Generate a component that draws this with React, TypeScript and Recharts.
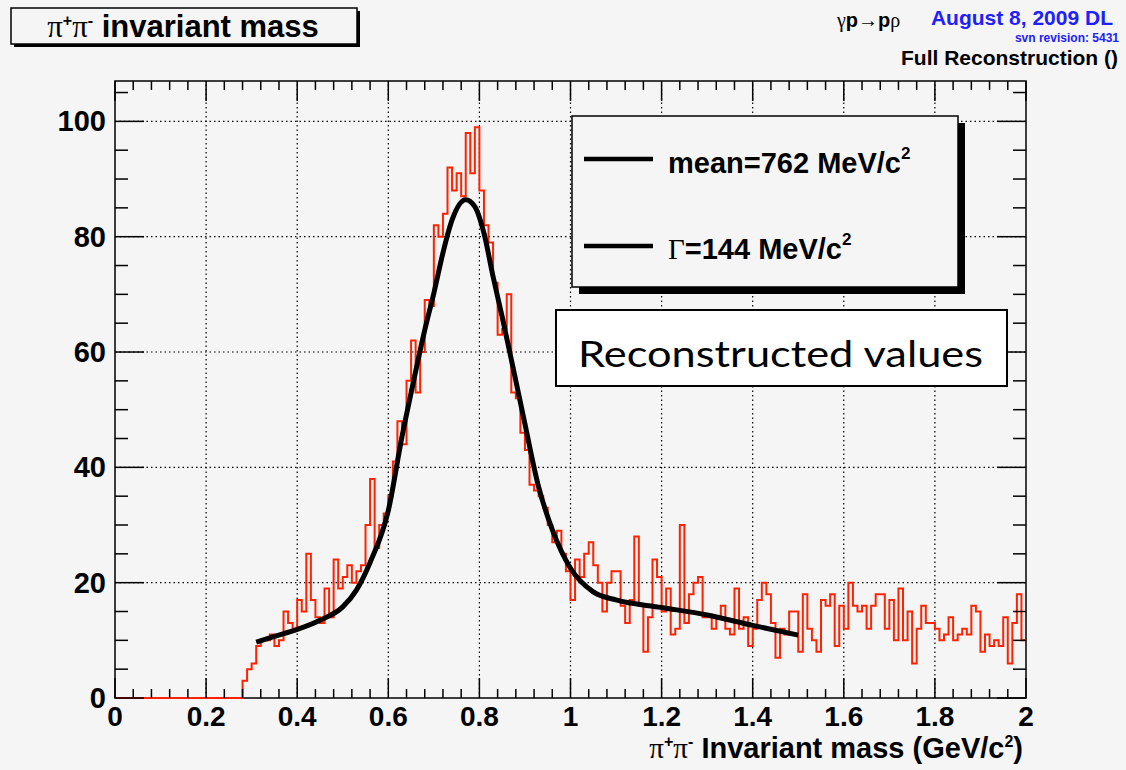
import React from "react";
import {
    LineChart,
    Line,
    XAxis,
    YAxis,
    ReferenceLine,
} from "recharts";

// histogram: 200 bins of 10 MeV from 0 to 2 GeV (counts per bin)
const BIN_WIDTH = 0.01;
const HIST_COUNTS = [
    0, 0, 0, 0, 0, 0, 0, 0, 0, 0, 0, 0, 0, 0, 0, 0, 0, 0, 0, 0, 0, 0, 0, 0, 0, 0, 0, 0,
    3, 5, 6, 9, 10, 10, 11, 9, 10, 15, 13, 12,
    17, 15, 25, 17, 14, 13, 19, 14, 24, 19,
    21, 23, 20, 22, 23, 30, 38, 26, 30, 32,
    35, 41, 48, 44, 55, 62, 53, 60, 69, 68,
    82, 80, 84, 92, 88, 91, 87, 98, 91, 99,
    88, 82, 79, 72, 63, 64, 70, 53, 52, 46,
    43, 37, 36, 35, 33, 30, 27, 29, 25, 22,
    17, 24, 21, 25, 27, 23, 20, 15, 20, 22,
    22, 16, 13, 17, 28, 16, 8, 14, 24, 21,
    15, 19, 11, 12, 30, 13, 18, 20, 21, 14,
    14, 12, 14, 16, 12, 11, 19, 12, 14, 9,
    12, 17, 20, 18, 13, 7, 12, 11, 15, 15,
    8, 18, 12, 10, 8, 17, 16, 18, 9, 16,
    12, 20, 16, 15, 16, 12, 16, 18, 18, 12,
    17, 10, 19, 10, 15, 6, 12, 16, 13, 13,
    12, 10, 11, 14, 10, 11, 12, 11, 16, 15,
    8, 11, 9, 10, 9, 14, 6, 13, 18, 10,
];

// Breit-Wigner + background fit
const FIT_MASS = [
    0.31, 0.35, 0.4, 0.45, 0.5, 0.53, 0.56, 0.6, 0.63, 0.65, 0.68, 0.7, 0.72, 0.74,
    0.77, 0.79, 0.81, 0.83, 0.85, 0.88, 0.9, 0.93, 0.96, 1.0, 1.05, 1.1, 1.2, 1.3,
    1.4, 1.5,
];
const FIT_VALUE = [
    9.7, 10.7, 11.9, 13.5, 15.8, 18.7, 23.5, 32.5, 45.3, 52.9, 63.8, 70.2, 77.2, 82.9,
    86.4, 85.2, 80.6, 73.1, 66.1, 55, 47.5, 36.6, 29.2, 22.5, 18.4, 17.0, 15.7, 14.4,
    12.6, 10.9,
];

const X_MAJOR = [0, 0.2, 0.4, 0.6, 0.8, 1, 1.2, 1.4, 1.6, 1.8, 2];
const Y_MAJOR = [0, 20, 40, 60, 80, 100];
const X_MAX = 2;
const Y_MAX = 107;

// minor ticks: 5 subdivisions on x, 4 on y
const X_TICKS = Array.from({ length: 51 }, (_, i) => +(i * 0.04).toFixed(2));
const Y_TICKS = Array.from({ length: 22 }, (_, i) => i * 5);

const W = 1126;
const H = 770;
const PLOT_LEFT = 115;
const PLOT_RIGHT = 1026;
const PLOT_TOP = 81;
const PLOT_BOTTOM = 698;
const PLOT_W = PLOT_RIGHT - PLOT_LEFT;
const PLOT_H = PLOT_BOTTOM - PLOT_TOP;

const BG = "#f5f5f5";
const SANS = "'Liberation Sans', Arial, Helvetica, sans-serif";
const SERIF = "'Liberation Serif', 'Times New Roman', serif";

const histData = HIST_COUNTS.map((n, i) => ({ m: +(i * BIN_WIDTH).toFixed(2), n }));
histData.push({ m: X_MAX, n: HIST_COUNTS[HIST_COUNTS.length - 1] });

const fitData = FIT_MASS.map((m, i) => ({ m, f: FIT_VALUE[i] }));

const isMajor = (v: number, majors: number[]) =>
    majors.some((t) => Math.abs(t - v) < 1e-6);

// ROOT style ticks: drawn inside the frame, on both opposite edges
function XTick(props: any) {
    const { x, y, payload } = props;
    const major = isMajor(payload.value, X_MAJOR);
    const len = major ? 20 : 9;
    return (
        <g>
            <line x1={x} y1={y} x2={x} y2={y - len} stroke="#000" strokeWidth={1.5} />
            <line x1={x} y1={y - PLOT_H} x2={x} y2={y - PLOT_H + len} stroke="#000" strokeWidth={1.5} />
            {major && (
                <text
                    x={x}
                    y={y + 28}
                    textAnchor="middle"
                    fontFamily={SANS}
                    fontWeight="bold"
                    fontSize={28}
                    fill="#000"
                >
                    {String(payload.value)}
                </text>
            )}
        </g>
    );
}

function YTick(props: any) {
    const { x, y, payload } = props;
    const major = isMajor(payload.value, Y_MAJOR);
    const len = major ? 29 : 13;
    return (
        <g>
            <line x1={x} y1={y} x2={x + len} y2={y} stroke="#000" strokeWidth={1.5} />
            <line x1={x + PLOT_W} y1={y} x2={x + PLOT_W - len} y2={y} stroke="#000" strokeWidth={1.5} />
            {major && (
                <text
                    x={x - 9}
                    y={y + 10}
                    textAnchor="end"
                    fontFamily={SANS}
                    fontWeight="bold"
                    fontSize={29}
                    fill="#000"
                >
                    {String(payload.value)}
                </text>
            )}
        </g>
    );
}

// plot frame, behind the chart so the histogram's zero run stays visible
function Frame() {
    return (
        <svg width={W} height={H} style={{ position: "absolute", left: 0, top: 0 }}>
            <rect
                x={PLOT_LEFT}
                y={PLOT_TOP}
                width={PLOT_W}
                height={PLOT_H}
                fill="none"
                stroke="#000"
                strokeWidth={1.5}
            />
        </svg>
    );
}

function Overlay() {
    return (
        <svg
            width={W}
            height={H}
            style={{ position: "absolute", left: 0, top: 0, pointerEvents: "none" }}
        >
            {/* title box */}
            <rect x={14} y={11} width={346} height={36} fill="#000" />
            <rect x={11} y={8} width={346} height={36} fill={BG} stroke="#000" strokeWidth={1.5} />
            <text x={183} y={37} textAnchor="middle" fontFamily={SANS} fontWeight="bold" fontSize={31}>
                <tspan fontFamily={SERIF} fontWeight="normal">π</tspan>
                <tspan fontSize={16} dy={-11}>+</tspan>
                <tspan fontFamily={SERIF} fontWeight="normal" dy={11}>π</tspan>
                <tspan fontSize={16} dy={-11}>-</tspan>
                <tspan dy={11}> invariant mass</tspan>
            </text>

            {/* top right labels */}
            <text x={837} y={27} fontFamily={SANS} fontWeight="bold" fontSize={20}>
                <tspan fontFamily={SERIF} fontWeight="normal">γ</tspan>p
                <tspan fontFamily={SERIF} fontWeight="normal">→</tspan>p
                <tspan fontFamily={SERIF} fontWeight="normal">ρ</tspan>
            </text>
            <text x={1113} y={25} textAnchor="end" fontFamily={SANS} fontWeight="bold" fontSize={21} fill="#2020ff">
                August 8, 2009 DL
            </text>
            <text x={1119} y={42} textAnchor="end" fontFamily={SANS} fontWeight="bold" fontSize={12} fill="#2020ff">
                svn revision: 5431
            </text>
            <text x={1118} y={65} textAnchor="end" fontFamily={SANS} fontWeight="bold" fontSize={21}>
                Full Reconstruction ()
            </text>

            {/* fit legend */}
            <rect x={579} y={123} width={386} height={171} fill="#000" />
            <rect x={572} y={116} width={386} height={171} fill={BG} stroke="#000" strokeWidth={1.5} />
            <line x1={584} y1={159} x2={653} y2={159} stroke="#000" strokeWidth={4.5} />
            <line x1={584} y1={246} x2={653} y2={246} stroke="#000" strokeWidth={4.5} />
            <text x={668} y={173} fontFamily={SANS} fontWeight="bold" fontSize={29}>
                mean=762 MeV/c<tspan fontSize={17} dy={-14}>2</tspan>
            </text>
            <text x={668} y={259} fontFamily={SANS} fontWeight="bold" fontSize={29}>
                <tspan fontFamily={SERIF} fontWeight="normal">Γ</tspan>=144 MeV/c
                <tspan fontSize={17} dy={-14}>2</tspan>
            </text>

            {/* annotation */}
            <rect x={556} y={310} width={451} height={76} fill="#fff" stroke="#000" strokeWidth={2} />
            <text x={578} y={367} fontFamily="Lato, 'Open Sans', sans-serif" fontSize={37} textLength={405} lengthAdjust="spacingAndGlyphs">
                Reconstructed values
            </text>

            {/* x axis title */}
            <text x={1023} y={758} textAnchor="end" fontFamily={SANS} fontWeight="bold" fontSize={29}>
                <tspan fontFamily={SERIF} fontWeight="normal">π</tspan>
                <tspan fontSize={16} dy={-11}>+</tspan>
                <tspan fontFamily={SERIF} fontWeight="normal" dy={11}>π</tspan>
                <tspan fontSize={16} dy={-11}>-</tspan>
                <tspan dy={11}> Invariant mass (GeV/c</tspan>
                <tspan fontSize={16} dy={-11}>2</tspan>
                <tspan dy={11}>)</tspan>
            </text>
        </svg>
    );
}

export default function App() {
    return (
        <div
            style={{
                position: "absolute",
                left: 0,
                top: 0,
                width: W,
                height: H,
                background: BG,
                overflow: "hidden",
            }}
        >
            <Frame />
            <div style={{ position: "absolute", left: 0, top: 0 }}>
                <LineChart
                    width={W}
                    height={H}
                    margin={{
                        top: PLOT_TOP,
                        right: W - PLOT_RIGHT,
                        left: PLOT_LEFT - 60,
                        bottom: H - PLOT_BOTTOM - 30,
                    }}
                >
                    <XAxis
                        type="number"
                        dataKey="m"
                        domain={[0, X_MAX]}
                        ticks={X_TICKS}
                        interval={0}
                        height={30}
                        tickSize={0}
                        tickMargin={0}
                        tickLine={false}
                        axisLine={false}
                        tick={<XTick />}
                    />
                    <YAxis
                        type="number"
                        domain={[0, Y_MAX]}
                        ticks={Y_TICKS}
                        interval={0}
                        width={60}
                        tickSize={0}
                        tickMargin={0}
                        tickLine={false}
                        axisLine={false}
                        tick={<YTick />}
                    />

                    {X_MAJOR.filter((v) => v > 0 && v < X_MAX).map((v) => (
                        <ReferenceLine key={"gx" + v} x={v} stroke="#000" strokeWidth={1.2} strokeDasharray="1.5 3" />
                    ))}
                    {Y_MAJOR.filter((v) => v > 0).map((v) => (
                        <ReferenceLine key={"gy" + v} y={v} stroke="#000" strokeWidth={1.2} strokeDasharray="1.5 3" />
                    ))}

                    <Line
                        data={histData}
                        dataKey="n"
                        type="stepAfter"
                        stroke="#ff2200"
                        strokeWidth={2}
                        dot={false}
                        isAnimationActive={false}
                    />
                    <Line
                        data={fitData}
                        dataKey="f"
                        type="monotone"
                        stroke="#000"
                        strokeWidth={5}
                        dot={false}
                        isAnimationActive={false}
                    />
                </LineChart>
            </div>
            <Overlay />
        </div>
    );
}
